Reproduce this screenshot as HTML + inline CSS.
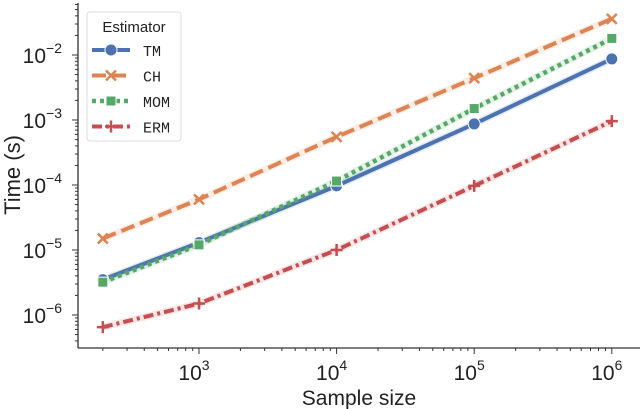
<!DOCTYPE html>
<html><head><meta charset="utf-8"><style>body{margin:0;background:#fff}svg{display:block;font-family:"Liberation Sans",sans-serif}</style></head>
<body>
<svg id="chart" width="640" height="409"></svg>
<script>
const sampleSizes=[200,1000,10000,100000,1000000];
const tmValues=[3.5e-6,1.3e-5,9.7e-5,8.7e-4,8.7e-3];
const chValues=[1.5e-5,6e-5,5.5e-4,4.4e-3,3.6e-2];
const momValues=[3.2e-6,1.2e-5,1.15e-4,1.5e-3,1.8e-2];
const ermValues=[6.5e-7,1.5e-6,1e-5,9.7e-5,9.6e-4];
const xTicks=[3,4,5,6];
const yTicks=[-6,-5,-4,-3,-2];
const seriesNames=["TM","CH","MOM","ERM"];
const NS="http://www.w3.org/2000/svg";
const svg=document.getElementById('chart');
const X=v=>199+(Math.log10(v)-3)*137.6;
const Y=v=>315-(Math.log10(v)+6)*65;
function mk(t,a,p){const e=document.createElementNS(NS,t);for(const k in a)e.setAttribute(k,a[k]);(p||svg).appendChild(e);return e;}
let e=mk('line',{x1:78,y1:3,x2:78,y2:348,stroke:'#333','stroke-width':1.3});


e=mk('line',{x1:78,y1:348,x2:640,y2:348,stroke:'#333','stroke-width':1.3});


for(let d=2;d<=6;d++){for(let m=1;m<10;m++){const v=m*Math.pow(10,d);if(v<150||v>1.1e6)continue;const x=X(v);mk('line',{x1:x,y1:348,x2:x,y2:m==1?354:351,stroke:'#333','stroke-width':1});}}
for(let d=-7;d<=-1;d++){for(let m=1;m<10;m++){const v=m*Math.pow(10,d);const y=Y(v);if(y<3||y>348)continue;mk('line',{x1:78,y1:y,x2:m==1?72:75,y2:y,stroke:'#333','stroke-width':1});}}
xTicks.forEach(p=>{const t=mk('text',{x:X(Math.pow(10,p))-5,y:380,'font-size':21,'text-anchor':'middle',fill:'#222'});t.textContent='10';const s=mk('tspan',{dy:-10,'font-size':14},t);s.textContent=p;

});
yTicks.forEach(p=>{const t=mk('text',{x:62,y:Y(Math.pow(10,p))+8,'font-size':21,'text-anchor':'end',fill:'#222'});t.textContent='10';const s=mk('tspan',{dy:-10,'font-size':14},t);s.textContent='\u2212'+(-p);

});
e=mk('text',{x:359,y:405,'font-size':21,'text-anchor':'middle',fill:'#222'});e.textContent='Sample size';


e=mk('text',{x:20,y:175,'font-size':22,'text-anchor':'middle',fill:'#222',transform:'rotate(-90 20 175)'});e.textContent='Time (s)';


const cols=['#4c72b0','#dd8452','#55a868','#c44e52'];
const dashes=['none','14 6','4 4','10 4 3 4'];
const widths=[4,4,4.5,4];
const allVals=[tmValues,chValues,momValues,ermValues];
function marker(i,x,y,g){
 if(i==0)mk('circle',{cx:x,cy:y,r:6,fill:cols[0],stroke:'#fff','stroke-width':1},g);
 else if(i==1){mk('path',{d:`M${x-5},${y-5}L${x+5},${y+5}M${x-5},${y+5}L${x+5},${y-5}`,stroke:cols[1],'stroke-width':2.5},g);}
 else if(i==2)mk('rect',{x:x-5,y:y-5,width:10,height:10,fill:cols[2],stroke:'#fff','stroke-width':1},g);
 else mk('path',{d:`M${x-6},${y}L${x+6},${y}M${x},${y-6}L${x},${y+6}`,stroke:cols[3],'stroke-width':2.5},g);
}
allVals.forEach((vals,i)=>{
 const g=mk('g',{});
 
 
 const pts=vals.map((v,j)=>X(sampleSizes[j])+','+Y(v)).join(' ');
 mk('polyline',{points:pts,fill:'none',stroke:cols[i],'stroke-opacity':0.15,'stroke-width':7},g);
 mk('polyline',{points:pts,fill:'none',stroke:cols[i],'stroke-width':widths[i],'stroke-dasharray':dashes[i]},g);
 vals.forEach((v,j)=>marker(i,X(sampleSizes[j]),Y(v),g));
});
const lg=mk('g',{});


mk('rect',{x:87,y:12,width:94,height:129,rx:3,fill:'#fff',stroke:'#ddd','stroke-width':1},lg);
e=mk('text',{x:134,y:32,'font-size':15,'text-anchor':'middle',fill:'#222'},lg);e.textContent='Estimator';
seriesNames.forEach((n,i)=>{
 const y=50+i*25.5;
 const g=mk('g',{},lg);
 
 
 mk('line',{x1:92,y1:y,x2:130,y2:y,stroke:cols[i],'stroke-width':widths[i],'stroke-dasharray':dashes[i]},g);
 marker(i,111,y,g);
 const t=mk('text',{x:143,y:y+6,'font-size':15,fill:'#222','font-family':'Liberation Mono, monospace'},g);t.textContent=n;
});
</script>
</body></html>
